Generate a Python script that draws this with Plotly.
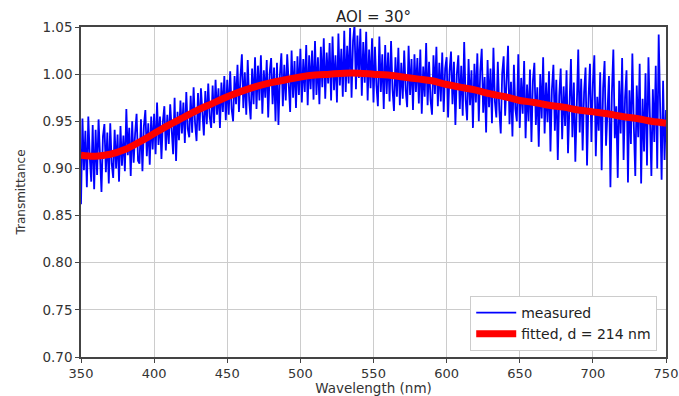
import plotly.graph_objects as go

# Measured transmittance, 1 nm step from 350 to 750 nm
wl_start = 350
measured = [
    0.862, 0.953, 0.898, 0.940, 0.880, 0.955, 0.912, 0.886, 0.946, 0.878,
    0.941, 0.893, 0.952, 0.917, 0.875, 0.934, 0.947, 0.896, 0.938, 0.884,
    0.948, 0.905, 0.890, 0.941, 0.900, 0.936, 0.886, 0.945, 0.903, 0.935,
    0.897, 0.963, 0.914, 0.943, 0.892, 0.950, 0.906, 0.937, 0.958, 0.908,
    0.905, 0.952, 0.897, 0.945, 0.962, 0.913, 0.948, 0.904, 0.955, 0.920,
    0.958, 0.915, 0.970, 0.925, 0.955, 0.910, 0.950, 0.966, 0.919, 0.957,
    0.926, 0.968, 0.934, 0.915, 0.975, 0.908, 0.960, 0.930, 0.972, 0.937,
    0.970, 0.927, 0.981, 0.942, 0.933, 0.977, 0.938, 0.986, 0.948, 0.929,
    0.980, 0.940, 0.985, 0.952, 0.935, 0.982, 0.947, 0.990, 0.955, 0.943,
    0.988, 0.948, 0.994, 0.957, 0.985, 0.943, 0.991, 0.960, 0.998, 0.951,
    0.994, 0.957, 1.003, 0.963, 0.950, 0.998, 0.968, 1.010, 0.960, 0.996,
    1.021, 0.964, 1.002, 0.957, 1.015, 0.972, 0.952, 1.006, 0.968, 1.018,
    0.963, 1.009, 0.972, 1.020, 0.958, 1.004, 0.975, 1.015, 0.954, 1.001,
    1.017, 0.968, 1.007, 0.950, 1.012, 0.946, 0.999, 1.022, 0.966, 1.010,
    0.972, 1.021, 0.981, 0.960, 1.025, 0.975, 1.014, 0.964, 1.019, 0.978,
    1.027, 0.970, 1.016, 0.981, 1.031, 0.967, 1.020, 0.984, 1.025, 0.973,
    1.035, 0.978, 1.018, 0.968, 1.029, 0.986, 1.038, 0.974, 1.023, 0.990,
    1.033, 0.972, 1.040, 0.983, 1.020, 0.970, 1.043, 0.988, 1.027, 0.976,
    1.046, 0.981, 1.030, 0.990, 1.049, 0.975, 1.035, 1.052, 0.984, 1.041,
    0.996, 1.048, 0.977, 1.034, 0.991, 1.045, 0.972, 1.026, 0.985, 1.038,
    0.970, 1.029, 0.988, 0.966, 1.040, 0.981, 1.021, 0.963, 1.031, 0.979,
    1.023, 0.971, 1.035, 0.984, 0.961, 1.018, 0.976, 1.028, 0.967, 1.012,
    0.974, 1.025, 0.983, 0.965, 1.030, 0.978, 1.016, 0.962, 1.021, 0.981,
    1.017, 0.969, 1.026, 0.958, 1.008, 0.976, 1.033, 0.967, 1.013, 0.973,
    0.957, 1.020, 0.979, 1.029, 0.966, 1.012, 0.971, 1.023, 0.960, 1.006,
    1.018, 0.954, 1.003, 1.024, 0.968, 1.013, 0.946, 1.000, 1.020, 0.963,
    1.009, 0.956, 1.034, 0.973, 0.951, 1.016, 0.967, 1.004, 0.943, 1.011,
    0.970, 1.022, 0.950, 1.003, 1.027, 0.959, 0.997, 0.938, 1.015, 0.965,
    1.006, 0.948, 1.028, 0.971, 0.954, 1.013, 0.962, 0.937, 1.001, 1.019,
    0.956, 0.998, 1.030, 0.947, 0.992, 0.934, 1.010, 0.963, 0.950, 1.021,
    0.943, 0.996, 0.958, 1.014, 0.932, 0.989, 0.950, 1.005, 0.928, 0.993,
    1.012, 0.946, 0.986, 0.923, 1.000, 0.953, 1.018, 0.937, 0.991, 0.949,
    1.003, 0.918, 0.984, 1.010, 0.940, 0.994, 0.909, 0.977, 1.006, 0.931,
    0.987, 0.945, 1.004, 0.916, 0.978, 1.016, 0.933, 0.991, 0.907, 0.983,
    1.026, 0.938, 0.995, 0.919, 0.981, 1.007, 0.903, 0.974, 1.011, 0.928,
    0.990, 1.020, 0.913, 0.976, 0.940, 1.002, 0.898, 0.985, 1.014, 0.924,
    0.971, 0.998, 0.880, 0.980, 1.026, 0.932, 0.966, 0.890, 0.993, 0.937,
    1.017, 0.909, 0.975, 1.004, 0.885, 0.983, 0.926, 1.022, 0.945, 0.892,
    0.988, 0.933, 1.011, 0.884, 0.974, 0.918, 1.001, 0.903, 1.018, 0.940,
    0.892, 0.984, 0.928, 1.009, 0.900, 1.042, 0.945, 0.888, 0.993, 0.909,
    0.962,
]
measured_wl = list(range(wl_start, wl_start + len(measured)))

# Fitted curve, 10 nm step
fitted_wl = list(range(350, 751, 10))
fitted = [
    0.914, 0.913, 0.915, 0.920, 0.928, 0.937, 0.946, 0.954, 0.962, 0.969,
    0.976, 0.982, 0.987, 0.991, 0.994, 0.997, 0.999, 1.000, 1.001, 1.001,
    1.000, 0.999, 0.997, 0.995, 0.993, 0.989, 0.986, 0.983, 0.979, 0.976,
    0.972, 0.970, 0.967, 0.965, 0.962, 0.960, 0.958, 0.955, 0.953, 0.950,
    0.948,
]

x_ticks = [350, 400, 450, 500, 550, 600, 650, 700, 750]
y_ticks = [0.70, 0.75, 0.80, 0.85, 0.90, 0.95, 1.00, 1.05]

font_family = "DejaVu Sans"
text_color = "#333333"

fig = go.Figure()
fig.add_trace(go.Scatter(
    x=measured_wl, y=measured, mode="lines", name="measured",
    line=dict(color="#0000ff", width=1.8),
))
fig.add_trace(go.Scatter(
    x=fitted_wl, y=fitted, mode="lines", name="fitted, d = 214 nm",
    line=dict(color="#ff0000", width=7, shape="spline"),
))

fig.update_layout(
    width=679, height=396,
    margin=dict(l=81, r=13, t=27, b=39, autoexpand=False),
    paper_bgcolor="white", plot_bgcolor="white",
    font=dict(family=font_family, size=13.5, color=text_color),
    title=dict(text="AOI = 30°", x=0.5, xref="paper", xanchor="center",
               y=0.957, yref="container", yanchor="middle",
               font=dict(size=15, color="#222222")),
    showlegend=True,
    legend=dict(x=0.985, y=0.018, xanchor="right", yanchor="bottom",
                bgcolor="white", bordercolor="#cccccc", borderwidth=1,
                font=dict(size=14, color="#222222"),
                tracegroupgap=0, itemwidth=40),
)
fig.update_xaxes(
    range=[350, 750], tickvals=x_ticks, ticktext=[str(v) for v in x_ticks],
    tickfont=dict(size=13),
    showgrid=True, gridcolor="#cccccc", gridwidth=1.2,
    showline=True, linecolor="#444444", linewidth=1.5, mirror=True,
    ticks="outside", ticklen=4, tickcolor="#444444",
    title=dict(text="Wavelength (nm)", standoff=7, font=dict(size=13.5)),
    zeroline=False, automargin=True,
)
fig.update_yaxes(
    range=[0.70, 1.05], tickvals=y_ticks, ticktext=[f"{v:.2f}" for v in y_ticks],
    showgrid=True, gridcolor="#cccccc", gridwidth=1.2,
    showline=True, linecolor="#444444", linewidth=1.5, mirror=True,
    ticks="outside", ticklen=4, tickcolor="#444444",
    title=dict(text="Transmittance", standoff=14, font=dict(size=12)),
    zeroline=False, automargin=False,
)

# remove the page's default body margin so the 679x396 figure fills the window
fig.write_html(
    "out.html",
    config={"displayModeBar": False},
    post_script="document.body.style.margin='0';document.body.style.overflow='hidden';",
)
